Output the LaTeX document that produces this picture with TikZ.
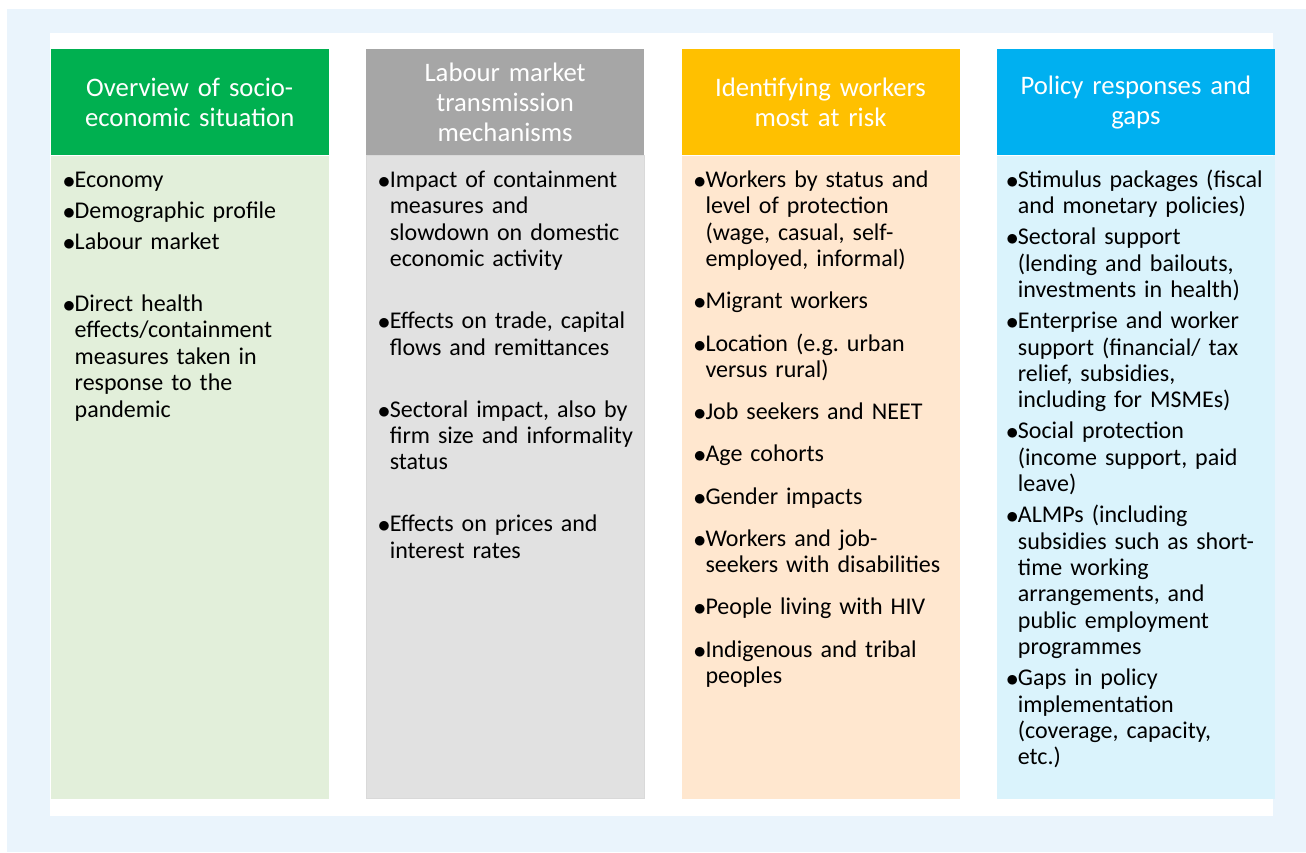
\documentclass[tikz,border=0pt]{standalone}
\usepackage{fontspec}
\setmainfont{Carlito}
\usetikzlibrary{positioning}

\definecolor{pageblue}{HTML}{EAF4FC}
\definecolor{ovgreen}{HTML}{00B050}
\definecolor{ovgreenlt}{HTML}{E2EFDA}
\definecolor{lmgrey}{HTML}{A6A6A6}
\definecolor{lmgreylt}{HTML}{E1E1E1}
\definecolor{lmgreyln}{HTML}{D9D9D9}
\definecolor{riskorange}{HTML}{FFC000}
\definecolor{riskorangelt}{HTML}{FFE7CF}
\definecolor{polblue}{HTML}{00B0F0}
\definecolor{polbluelt}{HTML}{DAF3FC}

% bullet with hanging indent; lines are broken by hand
\newcommand{\bitem}[1]{\ifhmode\unskip\fi\hangindent=8.5pt\hangafter=1\noindent\makebox[8.5pt][l]{\hspace{-3.4pt}\raisebox{-1pt}{$\bullet$}}#1\par}
\newcommand{\nextline}{\hfil\break}
\newcommand{\emptyline}{\vspace{31pt}}

\begin{document}
\begin{tikzpicture}[
  x=1pt, y=-1pt,
  headbox/.style={rectangle, minimum width=278pt, minimum height=106pt, inner sep=0pt, text width=270pt, align=center, text=white, font=\fontsize{26.7}{30}\selectfont},
  bodybox/.style={rectangle, minimum width=278pt, minimum height=643pt, inner sep=0pt},
  itemtext/.style={anchor=base west, inner sep=0pt, text width=262pt, font=\fontsize{24}{26.4}\selectfont\frenchspacing, execute at begin node={\setlength{\parskip}{#1}}},
  itemtext/.default=4.6pt
]
\useasboundingbox (0,0) rectangle (1306,852);

% page and panel
\fill[pageblue] (7,9) rectangle (1306,852);
\fill[white] (50,33) rectangle (1273,816);

% column headers
\node[headbox, fill=ovgreen, anchor=north west] (h1) at (50.5,49) {Overview of socio-\\economic situation};
\node[headbox, fill=lmgrey, right=37pt of h1] (h2) {Labour market\\transmission\\mechanisms};
\node[headbox, fill=riskorange, right=37pt of h2] (h3) {Identifying workers\\most at risk};
\node[headbox, fill=polblue, right=37pt of h3] (h4) {Policy responses and\\gaps};

% column bodies
\node[bodybox, fill=ovgreenlt, below=0pt of h1] (b1) {};
\node[bodybox, fill=lmgreylt, draw=lmgreyln, line width=1pt, below=0pt of h2] (b2) {};
\node[bodybox, fill=riskorangelt, below=0pt of h3] (b3) {};
\node[bodybox, fill=polbluelt, below=0pt of h4] (b4) {};

% bullet lists
\node[itemtext] (t1) at ([shift={(15.5,32)}]b1.north west) {
  \bitem{Economy}
  \bitem{Demographic profile}
  \bitem{Labour market}
  \emptyline
  \bitem{Direct health\nextline effects/containment\nextline measures taken in\nextline response to the\nextline pandemic}};

\node[itemtext] (t2) at ([shift={(15.5,32)}]b2.north west) {
  \bitem{Impact of containment\nextline measures and\nextline slowdown on domestic\nextline economic activity}
  \emptyline
  \bitem{Effects on trade, capital\nextline flows and remittances}
  \emptyline
  \bitem{Sectoral impact, also by\nextline firm size and informality\nextline status}
  \emptyline
  \bitem{Effects on prices and\nextline interest rates}};

\node[itemtext=15.8pt] (t3) at ([shift={(15.5,32)}]b3.north west) {
  \bitem{Workers by status and\nextline level of protection\nextline (wage, casual, self-\nextline employed, informal)}
  \bitem{Migrant workers}
  \bitem{Location (e.g. urban\nextline versus rural)}
  \bitem{Job seekers and NEET}
  \bitem{Age cohorts}
  \bitem{Gender impacts}
  \bitem{Workers and job-\nextline seekers with disabilities}
  \bitem{People living with HIV}
  \bitem{Indigenous and tribal\nextline peoples}};

\node[itemtext] (t4) at ([shift={(12.5,32)}]b4.north west) {
  \bitem{Stimulus packages (fiscal\nextline and monetary policies)}
  \bitem{Sectoral support\nextline (lending and bailouts,\nextline investments in health)}
  \bitem{Enterprise and worker\nextline support (financial/ tax\nextline relief, subsidies,\nextline including for MSMEs)}
  \bitem{Social protection\nextline (income support, paid\nextline leave)}
  \bitem{ALMPs (including\nextline subsidies such as short-\nextline time working\nextline arrangements, and\nextline public employment\nextline programmes}
  \bitem{Gaps in policy\nextline implementation\nextline (coverage, capacity,\nextline etc.)}};
\end{tikzpicture}
\end{document}
